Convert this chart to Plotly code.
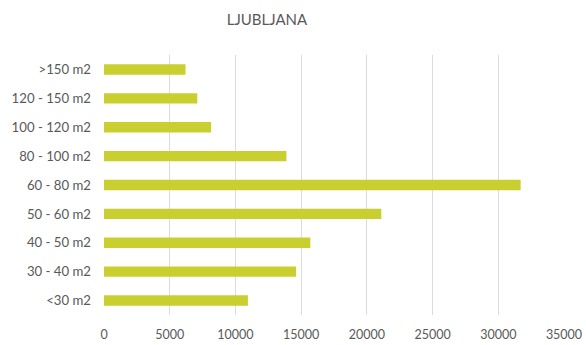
import plotly.graph_objects as go

# Apartment size classes (bottom to top) and counts
categories = ["<30 m2", "30 - 40 m2", "40 - 50 m2", "50 - 60 m2", "60 - 80 m2",
              "80 - 100 m2", "100 - 120 m2", "120 - 150 m2", ">150 m2"]
values = [10950, 14620, 15700, 21100, 31700, 13880, 8150, 7100, 6200]
x_ticks = [0, 5000, 10000, 15000, 20000, 25000, 30000, 35000]

bar_color = "#c9cf2f"
text_color = "#595959"

fig = go.Figure(go.Bar(
    x=values,
    y=categories,
    orientation="h",
    marker=dict(color=bar_color, line=dict(width=0)),
))

fig.update_layout(
    width=586,
    height=345,
    margin=dict(l=104, r=22, t=55, b=30, autoexpand=False),
    paper_bgcolor="white",
    plot_bgcolor="white",
    bargap=0.64,
    showlegend=False,
    font=dict(family="Lato, Open Sans, sans-serif", size=12, color=text_color),
    title=dict(
        text="LJUBLJANA",
        x=267 / 586,
        xanchor="center",
        y=1 - 20 / 345,
        yanchor="middle",
        font=dict(size=15, color=text_color),
    ),
    xaxis=dict(
        range=[0, 35000],
        tickvals=x_ticks,
        ticktext=[str(v) for v in x_ticks],
        showgrid=True,
        gridcolor="#dcdcdc",
        gridwidth=1,
        zeroline=False,
        showline=False,
        ticks="",
        tickfont=dict(size=12.5, color=text_color),
        ticklabelstandoff=10,
        automargin=False,
    ),
    yaxis=dict(
        showgrid=False,
        zeroline=False,
        showline=False,
        ticks="",
        tickfont=dict(size=13.2, color=text_color),
        ticklabelstandoff=12,
        automargin=False,
    ),
)

fig.write_html("out.html")
